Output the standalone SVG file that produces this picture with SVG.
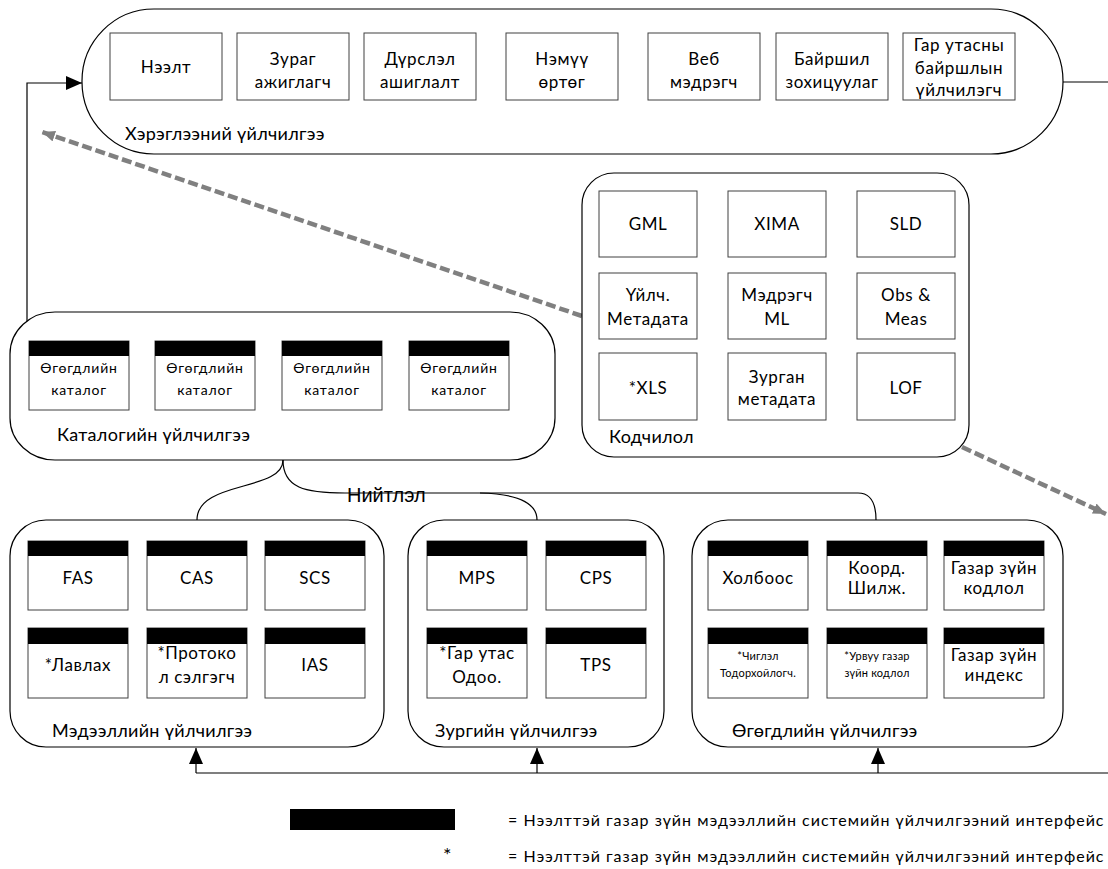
<svg xmlns="http://www.w3.org/2000/svg" width="1108" height="869" viewBox="0 0 1108 869">
<defs>
<style>
.cont{fill:#fff;stroke:#000;stroke-width:1.2}
.box{fill:#fff;stroke:#404040;stroke-width:1}
.hdr{fill:#000}
.t{font-family:Lato,"Noto Sans",sans-serif;font-size:17px;fill:#000;text-anchor:middle;letter-spacing:0.6px}
.lbl{font-family:Lato,"Noto Sans",sans-serif;font-size:18px;fill:#000;letter-spacing:0.3px}
.cat{font-size:14px;letter-spacing:0.8px}
.sm{font-size:11px;letter-spacing:0.2px}
.conn{fill:none;stroke:#000;stroke-width:1.2}
.dash{fill:none;stroke:#808080;stroke-width:4.5;stroke-dasharray:10 4}
.leg{font-family:Lato,"Noto Sans",sans-serif;font-size:16px;fill:#000;letter-spacing:1px}
</style>
<marker id="ab" markerUnits="userSpaceOnUse" markerWidth="16" markerHeight="14" refX="16" refY="7" orient="auto"><path d="M0,0 L16,7 L0,14 z" fill="#000"/></marker>
<marker id="ag" markerUnits="userSpaceOnUse" markerWidth="13" markerHeight="11" refX="13" refY="5.5" orient="auto"><path d="M0,0 L13,5.5 L0,11 z" fill="#808080"/></marker>
</defs>
<rect width="1108" height="869" fill="#fff"/>

<g id="connectors">
<path class="conn" d="M27,322 L27,83 L82,83" marker-end="url(#ab)"/>
<path class="conn" d="M1063,82 L1108,82"/>
<path class="conn" d="M283,460 C283,492 197,480 197,520"/>
<path class="conn" d="M283,460 C283,488 305,493 345,493 L858,493 C870,493 876,503 876,520"/>
<path class="conn" d="M480,493 C522,494 537,505 537,520"/>
<path class="conn" d="M196,773 L1108,773"/>
<path class="conn" d="M196,773 L196,748" marker-end="url(#ab)"/>
<path class="conn" d="M537,773 L537,748" marker-end="url(#ab)"/>
<path class="conn" d="M878,773 L878,748" marker-end="url(#ab)"/>
<path class="dash" d="M582,316 L42,132" marker-end="url(#ag)"/>
<path class="dash" d="M962,447 L1106,514" marker-end="url(#ag)"/>
<text x="347" y="502" font-family="'Liberation Sans',Arial,sans-serif" font-size="20" fill="#000">Нийтлэл</text>
</g>

<g id="usage">
<rect class="cont" x="82" y="9" width="981" height="145" rx="72" ry="72"/>
<text class="lbl" x="125" y="140">Хэрэглээний үйлчилгээ</text>
<g id="u1"><rect class="box" x="110" y="33" width="112" height="67"/><text class="t" x="166" y="73">Нээлт</text></g>
<g id="u2"><rect class="box" x="237" y="33" width="112" height="67"/><text class="t" x="293" y="65">Зураг</text><text class="t" x="293" y="88">ажиглагч</text></g>
<g id="u3"><rect class="box" x="364" y="33" width="112" height="67"/><text class="t" x="420" y="65">Дүрслэл</text><text class="t" x="420" y="88">ашиглалт</text></g>
<g id="u4"><rect class="box" x="506" y="33" width="112" height="67"/><text class="t" x="562" y="65">Нэмүү</text><text class="t" x="562" y="88">өртөг</text></g>
<g id="u5"><rect class="box" x="648" y="33" width="112" height="67"/><text class="t" x="704" y="65">Веб</text><text class="t" x="704" y="88">мэдрэгч</text></g>
<g id="u6"><rect class="box" x="776" y="33" width="112" height="67"/><text class="t" x="832" y="65">Байршил</text><text class="t" x="832" y="88">зохицуулаг</text></g>
<g id="u7"><rect class="box" x="903" y="33" width="112" height="67"/><text class="t" x="959" y="51">Гар утасны</text><text class="t" x="959" y="74">байршлын</text><text class="t" x="959" y="96">үйлчилэгч</text></g>
</g>

<g id="catalog">
<rect class="cont" x="10" y="312" width="545" height="148" rx="45" ry="42"/>
<text class="lbl" x="57" y="441">Каталогийн үйлчилгээ</text>
<g id="c1"><rect class="box" x="29" y="341" width="100" height="69"/><rect class="hdr" x="29" y="341" width="100" height="15"/><text class="t cat" x="79" y="373">Өгөгдлийн</text><text class="t cat" x="79" y="395">каталог</text></g>
<g id="c2"><rect class="box" x="155" y="341" width="100" height="69"/><rect class="hdr" x="155" y="341" width="100" height="15"/><text class="t cat" x="205" y="373">Өгөгдлийн</text><text class="t cat" x="205" y="395">каталог</text></g>
<g id="c3"><rect class="box" x="282" y="341" width="100" height="69"/><rect class="hdr" x="282" y="341" width="100" height="15"/><text class="t cat" x="332" y="373">Өгөгдлийн</text><text class="t cat" x="332" y="395">каталог</text></g>
<g id="c4"><rect class="box" x="409" y="341" width="100" height="69"/><rect class="hdr" x="409" y="341" width="100" height="15"/><text class="t cat" x="459" y="373">Өгөгдлийн</text><text class="t cat" x="459" y="395">каталог</text></g>
</g>

<g id="encoding">
<rect class="cont" x="582" y="173" width="387" height="284" rx="32" ry="32"/>
<text class="lbl" x="609" y="443">Кодчилол</text>
<g id="e1"><rect class="box" x="599" y="191" width="98" height="66"/><text class="t" x="648" y="230">GML</text></g>
<g id="e2"><rect class="box" x="728" y="191" width="98" height="66"/><text class="t" x="777" y="230">XIMA</text></g>
<g id="e3"><rect class="box" x="857" y="191" width="98" height="66"/><text class="t" x="906" y="230">SLD</text></g>
<g id="e4"><rect class="box" x="599" y="273" width="98" height="66"/><text class="t" x="648" y="301">Үйлч.</text><text class="t" x="648" y="325">Метадата</text></g>
<g id="e5"><rect class="box" x="728" y="273" width="98" height="66"/><text class="t" x="777" y="301">Мэдрэгч</text><text class="t" x="777" y="325">ML</text></g>
<g id="e6"><rect class="box" x="857" y="273" width="98" height="66"/><text class="t" x="906" y="301">Obs &amp;</text><text class="t" x="906" y="325">Meas</text></g>
<g id="e7"><rect class="box" x="599" y="353" width="98" height="67"/><text class="t" x="648" y="394">*XLS</text></g>
<g id="e8"><rect class="box" x="728" y="353" width="98" height="67"/><text class="t" x="777" y="383">Зурган</text><text class="t" x="777" y="405">метадата</text></g>
<g id="e9"><rect class="box" x="857" y="353" width="98" height="67"/><text class="t" x="906" y="394">LOF</text></g>
</g>

<g id="info">
<rect class="cont" x="10" y="520" width="374" height="227" rx="36" ry="36"/>
<text class="lbl" x="52" y="737">Мэдээллийн үйлчилгээ</text>
<g id="i1"><rect class="box" x="28" y="541" width="100" height="69"/><rect class="hdr" x="28" y="541" width="100" height="15"/><text class="t" x="78" y="584">FAS</text></g>
<g id="i2"><rect class="box" x="147" y="541" width="100" height="69"/><rect class="hdr" x="147" y="541" width="100" height="15"/><text class="t" x="197" y="584">CAS</text></g>
<g id="i3"><rect class="box" x="265" y="541" width="100" height="69"/><rect class="hdr" x="265" y="541" width="100" height="15"/><text class="t" x="315" y="584">SCS</text></g>
<g id="i4"><rect class="box" x="28" y="628" width="100" height="70"/><rect class="hdr" x="28" y="628" width="100" height="16"/><text class="t" x="78" y="671">*Лавлах</text></g>
<g id="i5"><rect class="box" x="147" y="628" width="100" height="70"/><rect class="hdr" x="147" y="628" width="100" height="16"/><text class="t" x="197" y="659">*Протоко</text><text class="t" x="197" y="683">л сэлгэгч</text></g>
<g id="i6"><rect class="box" x="265" y="628" width="100" height="70"/><rect class="hdr" x="265" y="628" width="100" height="16"/><text class="t" x="315" y="671">IAS</text></g>
</g>

<g id="portrayal">
<rect class="cont" x="408" y="520" width="256" height="227" rx="36" ry="36"/>
<text class="lbl" x="435" y="737">Зургийн үйлчилгээ</text>
<g id="p1"><rect class="box" x="427" y="541" width="100" height="69"/><rect class="hdr" x="427" y="541" width="100" height="15"/><text class="t" x="477" y="584">MPS</text></g>
<g id="p2"><rect class="box" x="546" y="541" width="100" height="69"/><rect class="hdr" x="546" y="541" width="100" height="15"/><text class="t" x="596" y="584">CPS</text></g>
<g id="p3"><rect class="box" x="427" y="628" width="100" height="70"/><rect class="hdr" x="427" y="628" width="100" height="16"/><text class="t" x="477" y="659">*Гар утас</text><text class="t" x="477" y="683">Одоо.</text></g>
<g id="p4"><rect class="box" x="546" y="628" width="100" height="70"/><rect class="hdr" x="546" y="628" width="100" height="16"/><text class="t" x="596" y="671">TPS</text></g>
</g>

<g id="data">
<rect class="cont" x="692" y="520" width="371" height="227" rx="36" ry="36"/>
<text class="lbl" x="732" y="737">Өгөгдлийн үйлчилгээ</text>
<g id="d1"><rect class="box" x="708" y="541" width="100" height="69"/><rect class="hdr" x="708" y="541" width="100" height="15"/><text class="t" x="758" y="584">Холбоос</text></g>
<g id="d2"><rect class="box" x="827" y="541" width="100" height="69"/><rect class="hdr" x="827" y="541" width="100" height="15"/><text class="t" x="877" y="574">Коорд.</text><text class="t" x="877" y="594">Шилж.</text></g>
<g id="d3"><rect class="box" x="944" y="541" width="100" height="69"/><rect class="hdr" x="944" y="541" width="100" height="15"/><text class="t" x="994" y="574">Газар зүйн</text><text class="t" x="994" y="594">кодлол</text></g>
<g id="d4"><rect class="box" x="708" y="628" width="100" height="70"/><rect class="hdr" x="708" y="628" width="100" height="16"/><text class="t sm" x="758" y="660">*Чиглэл</text><text class="t sm" x="758" y="677">Тодорхойлогч.</text></g>
<g id="d5"><rect class="box" x="827" y="628" width="100" height="70"/><rect class="hdr" x="827" y="628" width="100" height="16"/><text class="t sm" x="877" y="660">*Урвуу газар</text><text class="t sm" x="877" y="677">зүйн кодлол</text></g>
<g id="d6"><rect class="box" x="944" y="628" width="100" height="70"/><rect class="hdr" x="944" y="628" width="100" height="16"/><text class="t" x="994" y="661">Газар зүйн</text><text class="t" x="994" y="681">индекс</text></g>
</g>

<g id="legend">
<rect class="hdr" x="290" y="809" width="165" height="21"/>
<text class="leg" x="508" y="826">= Нээлттэй газар зүйн мэдээллийн системийн үйлчилгээний интерфейс</text>
<text x="443" y="862" font-family="Lato,'Noto Sans',sans-serif" font-size="20" fill="#000">*</text>
<text class="leg" x="508" y="862">= Нээлттэй газар зүйн мэдээллийн системийн үйлчилгээний интерфейс</text>
</g>
</svg>
